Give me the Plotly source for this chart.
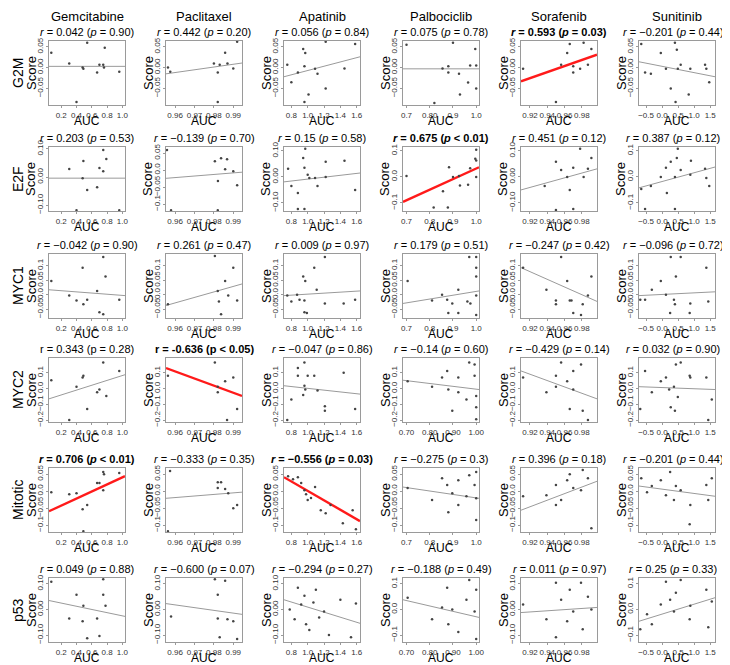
import plotly.graph_objects as go

FONT = "Liberation Sans, Arial, sans-serif"

drugs = ["Gemcitabine", "Paclitaxel", "Apatinib", "Palbociclib", "Sorafenib", "Sunitinib"]
signatures = ["G2M", "E2F", "MYC1", "MYC2", "Mitotic", "p53"]

# x axis (AUC) per drug
auc_range = [[0.04, 1.035], [0.9553, 0.9945], [0.71, 1.64], [0.685, 1.012], [0.9096, 0.9975], [-0.72, 1.65]]
auc_ticks = [[0.2, 0.4, 0.6, 0.8, 1.0], [0.96, 0.97, 0.98, 0.99], [0.8, 1.0, 1.2, 1.4, 1.6],
             [0.7, 0.8, 0.9, 1.0], [0.92, 0.94, 0.96, 0.98], [-0.5, 0, 0.5, 1, 1.5]]
auc_ticktext = [["0.2", "0.4", "0.6", "0.8", "1.0"], ["0.96", "0.97", "0.98", "0.99"],
                ["0.8", "1.0", "1.2", "1.4", "1.6"], ["0.7", "0.8", "0.9", "1.0"],
                ["0.92", "0.94", "0.96", "0.98"], ["−0.5", "0.0", "0.5", "1.0", "1.5"]]
palbo_ticktext = {0: ["0.7", "0.80", "0.9", "1.0"], 3: ["0.70", "0.80", "0.90", "1.00"],
                  5: ["0.70", "0.80", "0.90", "1.00"]}

# y axis (Score) per signature
score_range = [[-0.09, 0.064], [-0.131, 0.115], [-0.08, 0.14], [-0.212, 0.194], [-0.12, 0.068], [-0.127, 0.123]]
score_ticks = [[-0.05, 0, 0.05], [-0.1, 0, 0.1], [-0.05, 0, 0.05, 0.1], [-0.2, -0.1, 0, 0.1],
               [-0.1, -0.05, 0, 0.05], [-0.1, 0, 0.1]]
score_ticktext = [["−0.05", "0.00", "0.05"], ["−0.10", "0.00", "0.10"], ["−0.05", "0.0", "0.05", "0.1"],
                  ["−0.2", "−0.1", "0.0", "0.1"], ["−0.1", "−0.05", "0.0", "0.05"], ["−0.10", "0.00", "0.10"]]
# panels whose y axis differs from the rest of the row: (row, col)
score_range_override = {(1, 0): [-0.121, 0.107], (1, 1): [-0.12, 0.068]}
score_ticks_override = {(1, 1): [-0.1, -0.05, 0, 0.05]}
score_ticktext_override = {(1, 1): ["−0.1", "−0.05", "0.0", "0.05"], (1, 3): ["−0.1", "0.0", "0.1"],
                           (1, 5): ["−0.1", "0.0", "0.1"], (5, 3): ["−0.1", "0.0", "0.1"],
                           (5, 5): ["−0.1", "0.0", "0.1"]}

G2M_AUC = [
    [0.07, 0.305, 0.54, 0.48, 0.49, 0.67, 0.70, 0.77, 0.75, 0.76, 0.96, 0.40],
    [0.9563, 0.9575, 0.980, 0.982, 0.983, 0.9858, 0.987, 0.990, 0.992, 0.982],
    [0.75, 0.80, 0.88, 0.945, 0.97, 0.96, 0.96, 1.01, 1.09, 1.12, 1.22, 1.22, 1.45, 1.58],
    [0.70, 0.82, 0.855, 0.88, 0.88, 0.90, 0.926, 0.93, 0.965, 0.974, 0.996, 1.0, 1.0],
    [0.912, 0.950, 0.956, 0.963, 0.966, 0.970, 0.970, 0.978, 0.982, 0.987, 0.991],
    [-0.65, -0.53, -0.35, -0.04, 0.12, 0.27, 0.40, 0.42, 0.46, 0.49, 0.58, 0.88, 0.83, 1.34, 1.38, 1.47],
]
G2M_SCORE = [
    [0.036, 0.01, 0.06, 0.0, -0.003, -0.012, 0.007, 0.048, 0.007, 0.0, -0.01, -0.083],
    [0.0, -0.01, 0.01, -0.012, 0.007, 0.036, 0.01, -0.002, 0.062, -0.083],
    [0.007, -0.035, -0.012, 0.045, 0.035, 0.003, -0.083, -0.065, -0.003, -0.015, 0.062, -0.05, -0.002, 0.057],
    [0.055, -0.085, -0.002, -0.012, 0.003, 0.06, -0.015, -0.065, -0.036, 0.005, 0.045, 0.005, -0.05],
    [-0.003, -0.083, 0.007, 0.035, 0.057, 0.003, -0.012, -0.003, 0.06, 0.007, 0.045],
    [0.057, -0.012, -0.015, 0.035, -0.003, -0.05, 0.06, -0.083, 0.043, -0.003, 0.007, -0.003, -0.065, 0.007, -0.003, -0.035],
]
G2M_FIT = [[0.003, 0.003], [-0.015, 0.011], [-0.022, 0.026], [-0.003, -0.003], [-0.033, 0.031], [0.014, -0.022]]

E2F_AUC = [
    [0.305, 0.49, 0.48, 0.54, 0.40, 0.67, 0.70, 0.75, 0.79, 0.75, 0.96],
    [0.9558, 0.9579, 0.9805, 0.9821, 0.982, 0.9837, 0.9868, 0.9858, 0.99, 0.992],
    [0.76, 0.80, 0.88, 0.88, 0.945, 0.96, 0.96, 0.97, 1.0, 1.02, 1.09, 1.12, 1.22, 1.22, 1.45, 1.58],
    [0.70, 0.817, 0.857, 0.878, 0.883, 0.90, 0.926, 0.93, 0.965, 0.974, 0.996, 1.0, 1.0, 1.0],
    [0.937, 0.95, 0.95, 0.956, 0.963, 0.966, 0.970, 0.970, 0.978, 0.982, 0.987, 0.991],
    [-0.65, -0.53, -0.35, -0.04, 0.12, 0.15, 0.27, 0.40, 0.40, 0.46, 0.49, 0.58, 0.88, 0.90, 1.34, 1.38, 1.47],
]
E2F_SCORE = [
    [0.029, 0.057, -0.004, -0.046, -0.118, -0.036, 0.032, 0.096, 0.064, 0.021, -0.118],
    [0.059, -0.118, 0.026, -0.032, -0.118, 0.035, 0.032, 0.003, -0.003, -0.044],
    [0.031, -0.035, -0.062, -0.123, 0.073, -0.123, 0.035, 0.108, 0.008, -0.004, -0.004, -0.035, 0.058, 0.0, 0.062, -0.05],
    [0.004, -0.118, -0.055, -0.118, 0.037, 0.0, 0.004, -0.033, -0.03, 0.033, 0.07, 0.104, 0.063, 0.0],
    [-0.035, 0.058, -0.127, 0.027, 0.0, -0.05, 0.035, -0.123, 0.108, 0.0, 0.031, 0.073],
    [-0.046, -0.123, -0.035, 0.0, 0.035, -0.062, 0.058, -0.123, 0.0, 0.073, 0.108, 0.027, 0.008, 0.062, 0.031, -0.004, -0.035],
]
E2F_FIT = [[-0.004, -0.004], [-0.024, -0.006], [-0.019, 0.015], [-0.096, 0.037], [-0.05, 0.031], [-0.042, 0.038]]

MYC1_AUC = [
    [0.07, 0.48, 0.305, 0.40, 0.49, 0.54, 0.67, 0.70, 0.75, 0.75, 0.78, 0.96],
    [0.9563, 0.9805, 0.982, 0.9826, 0.9837, 0.9858, 0.9874, 0.99, 0.992],
    [0.75, 0.80, 0.87, 0.90, 0.945, 0.96, 0.96, 0.97, 0.99, 1.08, 1.11, 1.21, 1.21, 1.44, 1.58],
    [0.705, 0.81, 0.853, 0.875, 0.88, 0.897, 0.923, 0.923, 0.962, 0.97, 0.975, 1.0, 1.0, 1.0, 1.0, 1.0],
    [0.912, 0.939, 0.950, 0.950, 0.956, 0.963, 0.966, 0.968, 0.970, 0.979, 0.981, 0.987, 0.991],
    [-0.68, -0.53, -0.32, -0.04, 0.12, 0.25, 0.27, 0.37, 0.40, 0.43, 0.58, 0.86, 0.88, 1.38, 1.44],
]
MYC1_SCORE = [
    [0.047, 0.093, -0.003, -0.02, -0.033, -0.017, 0.013, -0.06, -0.067, 0.13, 0.063, -0.017],
    [-0.033, 0.133, 0.013, -0.023, -0.067, 0.047, -0.003, 0.093, -0.02],
    [-0.003, -0.023, 0.0, -0.017, 0.063, -0.02, -0.06, 0.047, -0.063, 0.093, 0.017, 0.13, -0.03, -0.03, -0.017],
    [0.047, -0.02, 0.0, -0.017, -0.063, -0.03, 0.017, -0.063, -0.023, 0.13, -0.03, 0.13, 0.093, 0.063, -0.003, -0.07],
    [0.093, 0.017, -0.02, -0.033, 0.13, 0.047, -0.02, -0.02, -0.063, -0.07, -0.033, -0.003, 0.063],
    [-0.017, -0.017, 0.017, 0.047, 0.0, -0.063, 0.13, -0.017, -0.033, 0.063, 0.13, -0.063, -0.03, 0.093, -0.023],
]
MYC1_FIT = [[0.017, -0.003], [-0.037, 0.037], [-0.003, 0.013], [-0.03, 0.013], [0.093, -0.023], [-0.003, 0.01]]

MYC2_AUC = [
    [0.07, 0.305, 0.40, 0.48, 0.49, 0.54, 0.67, 0.70, 0.75, 0.79, 0.96],
    [0.9563, 0.9805, 0.982, 0.982, 0.9858, 0.9868, 0.99, 0.992],
    [0.75, 0.80, 0.88, 0.88, 0.945, 0.96, 0.96, 0.97, 1.0, 1.08, 1.12, 1.21, 1.21, 1.44, 1.58],
    [0.705, 0.81, 0.853, 0.875, 0.88, 0.897, 0.923, 0.923, 0.958, 0.97, 0.993, 0.993, 1.0, 1.0, 1.0],
    [0.912, 0.939, 0.950, 0.950, 0.956, 0.963, 0.966, 0.970, 0.970, 0.979, 0.981, 0.987],
    [-0.68, -0.53, -0.32, -0.04, 0.12, 0.22, 0.27, 0.37, 0.40, 0.43, 0.49, 0.58, 0.86, 0.88, 1.38, 1.44, 1.55],
]
MYC2_SCORE = [
    [0.053, -0.2, 0.012, 0.07, 0.082, -0.13, -0.024, -0.006, 0.165, -0.047, 0.112],
    [0.082, 0.165, -0.024, 0.012, 0.047, -0.2, 0.07, -0.13],
    [-0.2, -0.07, 0.13, 0.082, -0.041, 0.165, 0.018, -0.006, 0.082, 0.082, -0.012, -0.112, -0.14, 0.1, -0.13],
    [0.047, 0.012, 0.07, 0.112, -0.006, -0.14, 0.07, -0.024, -0.07, 0.165, 0.153, 0.082, -0.047, -0.118, -0.194],
    [0.07, -0.024, 0.082, 0.012, 0.165, 0.047, -0.13, 0.112, -0.006, 0.153, -0.14, -0.2],
    [-0.13, 0.112, -0.024, 0.047, 0.07, -0.006, -0.118, 0.012, -0.14, 0.153, -0.053, 0.165, 0.082, 0.07, 0.07, -0.2, -0.07],
]
MYC2_FIT = [[-0.065, 0.088], [0.13, -0.047], [0.018, -0.035], [0.053, -0.006], [0.112, -0.065], [0.012, -0.006]]

MITOTIC_AUC = [
    [0.07, 0.305, 0.40, 0.48, 0.49, 0.54, 0.67, 0.70, 0.75, 0.76, 0.75, 0.96],
    [0.9574, 0.9563, 0.982, 0.982, 0.9837, 0.9858, 0.9874, 0.99, 0.992],
    [0.76, 0.82, 0.88, 0.92, 0.96, 0.98, 1.0, 1.04, 1.09, 1.16, 1.22, 1.28, 1.43, 1.55, 1.59],
    [0.705, 0.81, 0.853, 0.875, 0.88, 0.897, 0.923, 0.923, 0.958, 0.97, 0.993, 1.0, 1.0, 1.0],
    [0.912, 0.939, 0.950, 0.950, 0.956, 0.963, 0.966, 0.970, 0.979, 0.981, 0.987, 0.991],
    [-0.65, -0.47, -0.32, -0.04, 0.12, 0.25, 0.37, 0.43, 0.58, 0.86, 0.88, 1.38, 1.44, 1.55],
]
MITOTIC_SCORE = [
    [-0.003, -0.009, -0.006, -0.053, -0.118, -0.041, 0.024, 0.024, 0.056, 0.05, 0.003, 0.053],
    [0.059, -0.118, 0.009, 0.026, 0.026, 0.006, -0.006, -0.05, -0.041],
    [0.044, 0.035, 0.041, 0.024, 0.003, -0.009, -0.026, -0.02, 0.012, -0.056, -0.065, -0.041, -0.094, -0.056, -0.112],
    [0.009, -0.026, 0.038, 0.018, -0.062, -0.006, 0.032, -0.041, -0.015, 0.047, 0.018, -0.021, -0.085, 0.056],
    [-0.015, -0.012, -0.041, 0.018, -0.026, 0.032, 0.05, 0.009, 0.003, 0.062, 0.038, -0.109],
    [0.038, -0.003, 0.015, 0.032, -0.012, 0.056, -0.026, 0.015, 0.003, -0.097, -0.041, 0.018, -0.026, 0.038],
]
MITOTIC_FIT = [[-0.059, 0.044], [-0.021, -0.003], [0.041, -0.088], [0.012, -0.021], [-0.056, 0.029], [0.015, -0.015]]

P53_AUC = [
    [0.07, 0.305, 0.40, 0.48, 0.49, 0.54, 0.67, 0.70, 0.75, 0.75, 0.78],
    [0.9579, 0.9805, 0.982, 0.982, 0.983, 0.9858, 0.987, 0.99, 0.992],
    [0.78, 0.84, 0.88, 0.92, 0.96, 0.98, 1.02, 1.07, 1.10, 1.14, 1.20, 1.26, 1.40, 1.53, 1.59],
    [0.705, 0.81, 0.853, 0.875, 0.88, 0.897, 0.923, 0.958, 0.97, 0.993, 1.0, 1.0],
    [0.912, 0.939, 0.950, 0.950, 0.956, 0.963, 0.966, 0.970, 0.979, 0.981, 0.987, 0.991],
    [-0.68, -0.47, -0.32, -0.04, 0.12, 0.25, 0.37, 0.43, 0.58, 0.86, 0.88, 1.38, 1.44, 1.55],
]
P53_SCORE = [
    [0.108, -0.035, 0.058, -0.046, 0.015, -0.112, -0.035, -0.104, 0.118, 0.058, 0.015],
    [-0.027, 0.118, -0.035, 0.058, -0.108, 0.112, -0.038, -0.046, -0.115],
    [0.0, -0.038, 0.085, 0.019, 0.054, -0.058, -0.08, 0.027, 0.077, -0.031, -0.008, -0.1, 0.038, -0.108, 0.023],
    [0.046, -0.038, 0.008, 0.085, -0.058, 0.0, -0.088, 0.038, 0.115, -0.008, 0.077, -0.115],
    [0.019, -0.038, 0.104, -0.108, 0.038, -0.046, 0.077, -0.008, 0.104, -0.077, 0.05, 0.0],
    [-0.077, -0.019, -0.058, 0.019, 0.108, 0.038, -0.008, 0.065, 0.115, -0.038, 0.015, 0.077, -0.069, 0.031],
]
P53_FIT = [[0.035, -0.027], [0.023, -0.019], [0.038, -0.054], [0.038, -0.031], [-0.012, 0.008], [-0.046, 0.046]]

R_TEXT = [
    ["0.042", "0.442", "0.056", "0.075", "0.593", "−0.201"],
    ["0.203", "−0.139", "0.15", "0.675", "0.451", "0.387"],
    ["−0.042", "0.261", "0.009", "0.179", "−0.247", "−0.096"],
    ["0.343", "-0.636", "−0.047", "−0.14", "−0.429", "0.032"],
    ["0.706", "−0.333", "−0.556", "−0.275", "0.396", "−0.201"],
    ["0.049", "−0.600", "−0.294", "−0.188", "0.011", "0.25"],
]
P_TEXT = [
    ["= 0.90", "= 0.20", "= 0.84", "= 0.78", "= 0.03", "= 0.44"],
    ["= 0.53", "= 0.70", "= 0.58", "< 0.01", "= 0.12", "= 0.12"],
    ["= 0.90", "= 0.47", "= 0.97", "= 0.51", "= 0.42", "= 0.72"],
    ["= 0.28", "< 0.05", "= 0.86", "= 0.60", "= 0.14", "= 0.90"],
    ["< 0.01", "= 0.35", "= 0.03", "= 0.3", "= 0.18", "= 0.44"],
    ["= 0.88", "= 0.07", "= 0.27", "= 0.49", "= 0.97", "= 0.33"],
]
significant = [(0, 4), (1, 3), (3, 1), (4, 0), (4, 2)]
upright = [(3, 0), (3, 1)]

all_auc = [G2M_AUC, E2F_AUC, MYC1_AUC, MYC2_AUC, MITOTIC_AUC, P53_AUC]
all_score = [G2M_SCORE, E2F_SCORE, MYC1_SCORE, MYC2_SCORE, MITOTIC_SCORE, P53_SCORE]
all_fit = [G2M_FIT, E2F_FIT, MYC1_FIT, MYC2_FIT, MITOTIC_FIT, P53_FIT]

# panel geometry in window pixels; the page body adds an 8px margin
OFF = 8
W, H = 730 - OFF, 665 - OFF
box_left = [49, 166, 284, 403, 521, 639]
box_top = [41, 147, 254, 358, 468, 578]
box_w, box_h = 76, 64


def px(x):
    return (x - OFF) / W


def py(y):
    return 1 - (y - OFF) / H


fig = go.Figure()
layout = {}
annotations = []
axis_style = dict(showline=True, mirror=True, linecolor="#9a9a9a", linewidth=1,
                  ticks="outside", ticklen=2, tickcolor="#9a9a9a", showgrid=False,
                  zeroline=False, automargin=False,
                  tickfont=dict(family=FONT, size=8, color="#333333"))


def note(text, x, y, size, angle=0):
    return dict(text=text, x=px(x), y=py(y), xref="paper", yref="paper",
                xanchor="center", yanchor="middle", textangle=angle, showarrow=False,
                font=dict(family=FONT, size=size, color="black"))


for r in range(6):
    for c in range(6):
        k = r * 6 + c + 1
        sfx = "" if k == 1 else str(k)

        xtt = auc_ticktext[c]
        if c == 3 and r in palbo_ticktext:
            xtt = palbo_ticktext[r]
        layout["xaxis" + sfx] = dict(domain=[px(box_left[c]), px(box_left[c] + box_w)],
                                     range=auc_range[c], anchor="y" + sfx,
                                     tickmode="array", tickvals=auc_ticks[c], ticktext=xtt,
                                     tickangle=0, **axis_style)
        layout["yaxis" + sfx] = dict(domain=[py(box_top[r] + box_h), py(box_top[r])],
                                     range=score_range_override.get((r, c), score_range[r]),
                                     anchor="x" + sfx, tickmode="array",
                                     tickvals=score_ticks_override.get((r, c), score_ticks[r]),
                                     ticktext=score_ticktext_override.get((r, c), score_ticktext[r]),
                                     tickangle=-90, **axis_style)

        sig = (r, c) in significant
        fig.add_trace(go.Scatter(
            x=auc_range[c], y=all_fit[r][c], mode="lines",
            line=dict(color="#ff1a1a" if sig else "#9a9a9a", width=2.4 if sig else 1),
            xaxis="x" + sfx, yaxis="y" + sfx, hoverinfo="skip"))
        fig.add_trace(go.Scatter(
            x=all_auc[r][c], y=all_score[r][c], mode="markers",
            marker=dict(color="#444444", size=2.5),
            xaxis="x" + sfx, yaxis="y" + sfx))

        # panel title with correlation
        if (r, c) in upright:
            txt = f"r = {R_TEXT[r][c]} (p {P_TEXT[r][c]})"
        else:
            txt = f"<i>r</i> = {R_TEXT[r][c]} (<i>p</i> {P_TEXT[r][c]})"
        if sig:
            txt = f"<b>{txt}</b>"
        xc = box_left[c] + box_w / 2
        title_x = xc - 4 if c == 5 else xc
        annotations.append(note(txt, title_x, box_top[r] - 9, 11))
        annotations.append(note("Score", box_left[c] - 18, box_top[r] + box_h / 2, 13, -90))
        annotations.append(note("AUC", xc, box_top[r] + box_h + 16, 12))

for c, name in enumerate(drugs):
    annotations.append(note(name, box_left[c] + box_w / 2, 16, 13))
for r, name in enumerate(signatures):
    annotations.append(note(name, 18, box_top[r] + box_h / 2, 14, -90))

fig.update_layout(layout)
fig.update_layout(width=W, height=H, margin=dict(l=0, r=0, t=0, b=0, pad=0, autoexpand=False),
                  paper_bgcolor="white", plot_bgcolor="white", showlegend=False,
                  annotations=annotations)

fig.write_html("out.html")
